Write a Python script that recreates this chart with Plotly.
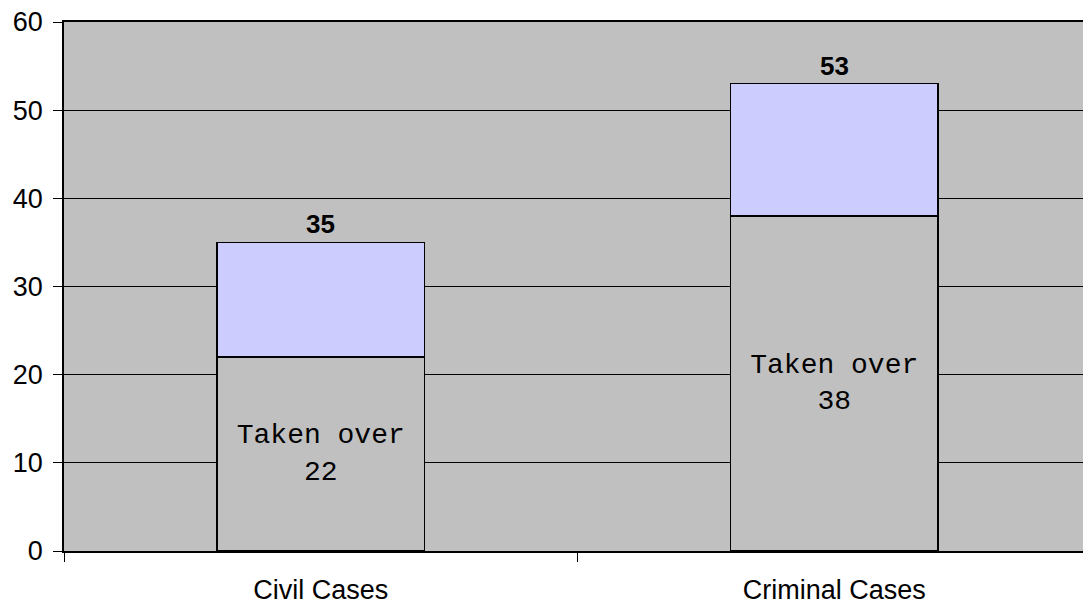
import plotly.graph_objects as go

categories = ["Civil Cases", "Criminal Cases"]
taken_over = [22, 38]
remaining = [13, 15]
totals = [35, 53]

fig = go.Figure()
fig.add_trace(go.Bar(
    x=categories, y=taken_over, name="Taken over",
    marker=dict(color="#C0C0C0", line=dict(color="black", width=1.5)),
    texttemplate="Taken over<br>%{y}", textposition="inside",
    insidetextanchor="middle", textangle=0,
    textfont=dict(family="Liberation Mono", size=28, color="black"),
))
fig.add_trace(go.Bar(
    x=categories, y=remaining, name="Other",
    marker=dict(color="#CCCCFF", line=dict(color="black", width=1.5)),
))

# totals on top of each stack
for c, t in zip(categories, totals):
    fig.add_annotation(x=c, y=t, text="<b>%d</b>" % t, showarrow=False,
                       yanchor="bottom", yshift=1,
                       font=dict(family="Arial", size=26, color="black"))

# page body has an 8px margin, so the figure is sized to end at the window edge
fig.update_layout(
    barmode="stack", bargap=0.595, showlegend=False,
    width=1083, height=598,
    margin=dict(l=56, r=0, t=14, b=55),
    plot_bgcolor="#C0C0C0", paper_bgcolor="white",
    font=dict(family="Arial", size=27, color="black"),
)
fig.update_xaxes(showline=True, linecolor="black", linewidth=1.5, mirror=True,
                 ticks="outside", tickson="boundaries", ticklen=9,
                 tickcolor="black", tickfont=dict(size=27),
                 ticklabelstandoff=14, automargin=False)
fig.update_yaxes(range=[0, 60], dtick=10, showgrid=True, gridcolor="black",
                 gridwidth=1, showline=True, linecolor="black", linewidth=1.5,
                 ticks="outside", ticklen=9, tickcolor="black",
                 zeroline=False, tickfont=dict(size=27),
                 ticklabelstandoff=5, ticklabeloverflow="allow",
                 automargin=False)

fig.write_html("out.html")
